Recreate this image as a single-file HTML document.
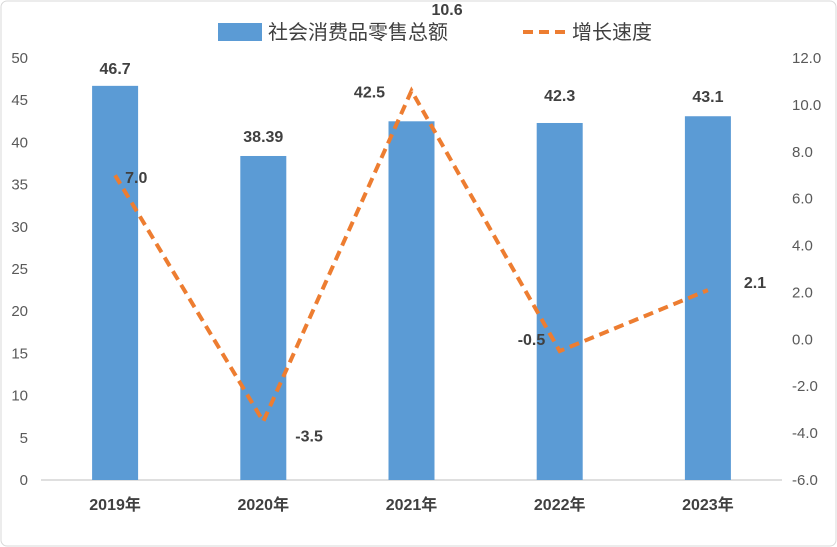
<!DOCTYPE html>
<html><head><meta charset="utf-8">
<style>
body{margin:0;background:#fff;}
svg{display:block;font-family:"Liberation Sans","Noto Sans CJK SC",sans-serif;}
</style></head>
<body>
<svg id="chart" width="837" height="547" viewBox="0 0 837 547">
<rect x="1" y="1" width="835" height="545" rx="6" fill="#fff" stroke="#d9d9d9"/>
<g>
<rect x="218" y="23" width="44" height="18" fill="#5b9bd5"/>
<text x="268" y="39" font-size="20" fill="#404040">社会消费品零售总额</text>
<line x1="523" y1="32" x2="565" y2="32" stroke="#ed7d31" stroke-width="4" stroke-dasharray="10,6"/>
<text x="572" y="39" font-size="20" fill="#404040">增长速度</text>
</g>
<g id="plot"></g>
</svg>
<script>
const categories=["2019年","2020年","2021年","2022年","2023年"];
const salesValues=[46.7,38.39,42.5,42.3,43.1];
const salesLabels=["46.7","38.39","42.5","42.3","43.1"];
const growthValues=[7.0,-3.5,10.6,-0.5,2.1];
const growthLabels=["7.0","-3.5","10.6","-0.5","2.1"];
const leftTicks=[0,5,10,15,20,25,30,35,40,45,50];
const rightTicks=[-6,-4,-2,0,2,4,6,8,10,12];

const NS="http://www.w3.org/2000/svg";
const g=document.getElementById('plot');
const X0=41,X1=782,Y0=480,Y1=58;
const bw=(X1-X0)/categories.length;
const xc=i=>X0+bw*(i+0.5);
const yL=v=>Y0-(v-0)/(50-0)*(Y0-Y1);
const yR=v=>Y0-(v+6)/(18)*(Y0-Y1);
function mk(t,a,txt){const e=document.createElementNS(NS,t);for(const k in a)e.setAttribute(k,a[k]);if(txt!==undefined)e.textContent=txt;g.appendChild(e);return e;}

leftTicks.forEach(v=>{const e=mk('text',{x:28,y:yL(v)+5,'text-anchor':'end','font-size':15,fill:'#595959'},String(v));

});
rightTicks.forEach(v=>{const e=mk('text',{x:792,y:yR(v)+5,'font-size':15,fill:'#595959'},v.toFixed(1));

});

const ax=mk('line',{x1:X0,y1:Y0,x2:X1,y2:Y0,stroke:'#bfbfbf','stroke-width':1});



// bar label offsets (dx, dy) relative to bar top center
const barLblOff=[[0,-12],[0,-14],[-42,-24],[0,-22],[0,-14]];
const lineLblOff=[[10,8],[32,20],[20,-76],[-42,-6],[36,-2]];

categories.forEach((c,i)=>{
  const y=yL(salesValues[i]);
  const r=mk('rect',{x:xc(i)-23,y:y,width:46,height:Y0-y,fill:'#5b9bd5'});
  
  
  const t=mk('text',{x:xc(i)+barLblOff[i][0],y:y+barLblOff[i][1],'text-anchor':'middle','font-size':16,'font-weight':'bold',fill:'#404040'},salesLabels[i]);
  
  
  const xl=mk('text',{x:xc(i),y:510,'text-anchor':'middle','font-size':16,'font-weight':'bold',fill:'#404040'},c);
  
  
});

const pts=growthValues.map((v,i)=>xc(i)+','+yR(v)).join(' ');
const pl=mk('polyline',{points:pts,fill:'none',stroke:'#ed7d31','stroke-width':4,'stroke-dasharray':'10,6'});


growthValues.forEach((v,i)=>{
  const t=mk('text',{x:xc(i)+lineLblOff[i][0],y:yR(v)+lineLblOff[i][1],'font-size':16,'font-weight':'bold',fill:'#404040','text-anchor':'start'},growthLabels[i]);
  
  
});
</script>
</body></html>
